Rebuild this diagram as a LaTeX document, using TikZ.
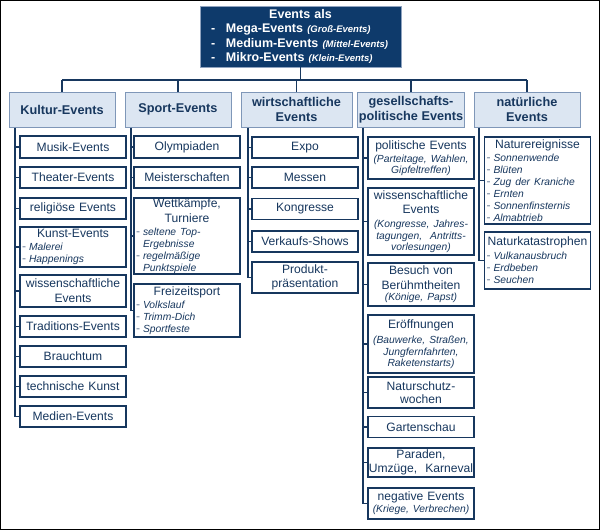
\documentclass[tikz,border=0pt]{standalone}
\usepackage{fontspec}
\setmainfont{Liberation Sans}
\definecolor{navy}{HTML}{17375E}
\definecolor{topfill}{HTML}{0E3A6B}
\definecolor{topline}{HTML}{8FA3BF}
\definecolor{catfill}{HTML}{DCE6F2}
\definecolor{catline}{HTML}{7F97B8}
\definecolor{dashc}{HTML}{6A7D98}
\newcommand\mainf{\fontsize{12.1}{14.5}\selectfont}
\newcommand\subf{\fontsize{10.3}{12}\selectfont\itshape}
\newcommand\dli[1]{\hspace*{1pt}\makebox[7pt][l]{\textcolor{dashc}{\upshape -}}{\subf #1}}
\newcommand\cli[1]{\hspace*{8pt}{\subf #1}}
\newcommand\ctr[1]{\makebox[104pt]{#1}}
\newcommand\topli[2]{\hspace*{11pt}\makebox[15pt][l]{-}#1 {\fontsize{9.5}{10}\selectfont\itshape (#2)}}
\tikzset{
  topbox/.style={draw=topline, line width=0.8pt, fill=topfill, text=white,
    font=\bfseries\fontsize{12.5}{14.5}\selectfont, inner sep=0pt, align=left,
    text width=201pt, minimum height=61pt},
  catbox/.style={draw=catline, line width=1pt, fill=catfill, text=navy,
    font=\bfseries\fontsize{12.7}{15}\selectfont, align=center, inner sep=1pt,
    minimum height=35pt, minimum width=106pt},
  kid/.style={draw=navy, line width=1.1pt, fill=white, text=navy, font=\mainf,
    align=center, inner xsep=1pt, inner ysep=0pt, text width=104pt},
  kidl/.style={kid, align=left},
  link/.style={draw=navy, line width=1.1pt},
}
\begin{document}
\begin{tikzpicture}[x=1pt,y=-1pt]
\useasboundingbox (0,0) rectangle (600,530);
\draw[black, line width=1pt] (0.5,0.5) rectangle (599.5,529.5);

% top box
\node[topbox] (top) at (300.5,36.5) {\makebox[201pt]{Events als}\\
  \topli{Mega-Events}{Groß-Events}\\
  \topli{Medium-Events}{Mittel-Events}\\
  \topli{Mikro-Events}{Klein-Events}};

% categories
\node[catbox] (kultur) at (62,109.5) {Kultur-Events};
\node[catbox] (sport) at (178,109.5) {Sport-Events};
\node[catbox, minimum width=111pt] (wirt) at (296.5,109.5) {wirtschaftliche\\Events};
\node[catbox] (ges) at (411,109.5) {gesellschafts-\\politische Events};
\node[catbox] (nat) at (527,109.5) {natürliche\\Events};

\coordinate (tj) at (300,80);
\draw[link] (top.south) -- (top.south |- tj);
\draw[link] (kultur.north |- tj) -- (nat.north |- tj);
\foreach \n in {kultur,sport,wirt,ges,nat} \draw[link] (\n.north |- tj) -- (\n.north);

% Kultur
\node[kid, minimum height=22pt] (musik) at (73,147) {Musik-Events};
\node[kid, minimum height=21pt] (theater) at (73,177.5) {Theater-Events};
\node[kid, minimum height=21pt] (relig) at (73,208.5) {religiöse Events};
\node[kidl, minimum height=40pt] (kunst) at (73,247) {\ctr{Kunst-Events}\\[-1.5pt]\dli{Malerei}\\[-2.5pt]\dli{Happenings}};
\node[kid, minimum height=32pt] (wiss) at (73,291) {wissenschaftliche\\[0.5pt]Events};
\node[kid, minimum height=21pt] (trad) at (73,326.5) {Traditions-Events};
\node[kid, minimum height=21pt] (brauch) at (73,356.5) {Brauchtum};
\node[kid, minimum height=21pt] (tech) at (73,386.5) {technische Kunst};
\node[kid, minimum height=21pt] (medien) at (73,416.5) {Medien-Events};

% Sport
\node[kid, minimum height=22pt] (olymp) at (187,147) {Olympiaden};
\node[kid, minimum height=21pt] (meister) at (187,177.5) {Meisterschaften};
\node[kidl, minimum height=76pt] (wett) at (187,236) {\ctr{Wettkämpfe,}\\\ctr{Turniere}\\[-1.5pt]\dli{seltene Top-}\\[-2.5pt]\cli{Ergebnisse}\\[-2.5pt]\dli{regelmäßige}\\[-2.5pt]\cli{Punktspiele}};
\node[kidl, minimum height=53pt] (freizeit) at (187,310.5) {\ctr{Freizeitsport}\\[-1.5pt]\dli{Volkslauf}\\[-2pt]\dli{Trimm-Dich}\\[-2.5pt]\dli{Sportfeste}};

% Wirtschaft
\node[kid, minimum height=21pt] (expo) at (305,147.5) {Expo};
\node[kid, minimum height=21pt] (messen) at (305,177.5) {Messen};
\node[kid, minimum height=21pt] (kongr) at (305,209) {Kongresse};
\node[kid, minimum height=21pt] (verk) at (305,241.5) {Verkaufs-Shows};
\node[kid, minimum height=31pt] (prod) at (305,277.5) {Produkt-\\präsentation};

% Gesellschaft
\node[kid, minimum height=42pt] (polit) at (421,158) {politische Events\\[-1.5pt]{\subf (Parteitage, Wahlen,}\\[-3pt]{\subf Gipfeltreffen)}};
\node[kid, minimum height=67pt] (wiss2) at (421,221.5) {wissenschaftliche\\Events\\[-1pt]{\subf (Kongresse, Jahres-}\\[-2.5pt]{\subf tagungen,\ \ Antritts-}\\[-3pt]{\subf vorlesungen)}};
\node[kid, minimum height=43pt] (besuch) at (421,284.5) {Besuch von\\Berühmtheiten\\[-3pt]{\subf (Könige, Papst)}};
\node[kid, minimum height=58pt] (eroeff) at (421,344) {Eröffnungen\\[0.5pt]{\subf (Bauwerke, Straßen,}\\[-2.5pt]{\subf Jungfernfahrten,}\\[-3pt]{\subf Raketenstarts)}};
\node[kid, minimum height=31pt] (natur) at (421,392.5) {Naturschutz-\\[-1.5pt]wochen};
\node[kid, minimum height=21pt] (garten) at (421,427) {Gartenschau};
\node[kid, minimum height=29pt] (paraden) at (421,462.5) {Paraden,\\\makebox[104pt]{Umzüge,\ \ Karneval}};
\node[kid, minimum height=31pt] (negativ) at (421,503.5) {negative Events\\[-2.5pt]{\subf (Kriege, Verbrechen)}};

% Natur
\node[kidl, minimum height=87pt] (ereign) at (537.5,180.5) {\ctr{Naturereignisse}\\[-1.5pt]\dli{Sonnenwende}\\[-2.5pt]\dli{Blüten}\\[-2.5pt]\dli{Zug der Kraniche}\\[-2.5pt]\dli{Ernten}\\[-2.5pt]\dli{Sonnenfinsternis}\\[-2.5pt]\dli{Almabtrieb}};
\node[kidl, minimum height=57pt] (katastr) at (537.5,260.5) {\ctr{Naturkatastrophen}\\[-0.5pt]\dli{Vulkanausbruch}\\[-2.5pt]\dli{Erdbeben}\\[-2.5pt]\dli{Seuchen}};

% spines
\coordinate (ks) at (15,127.5);
\coordinate (ss) at (131,127.5);
\coordinate (ws) at (248,127.5);
\coordinate (gs) at (363,127.5);
\coordinate (ns) at (479,127.5);
\draw[link] (ks) |- (medien.west);
\foreach \n in {musik,theater,relig,kunst,wiss,trad,brauch,tech} \draw[link] (ks |- \n.west) -- (\n.west);
\draw[link] (ss) |- (freizeit.west);
\foreach \n in {olymp,meister,wett} \draw[link] (ss |- \n.west) -- (\n.west);
\draw[link] (ws) |- (prod.west);
\foreach \n in {expo,messen,kongr,verk} \draw[link] (ws |- \n.west) -- (\n.west);
\draw[link] (gs) |- (negativ.west);
\foreach \n in {polit,wiss2,besuch,eroeff,natur,garten,paraden} \draw[link] (gs |- \n.west) -- (\n.west);
\draw[link] (ns) |- (katastr.west);
\draw[link] (ns |- ereign.west) -- (ereign.west);
\end{tikzpicture}
\end{document}
